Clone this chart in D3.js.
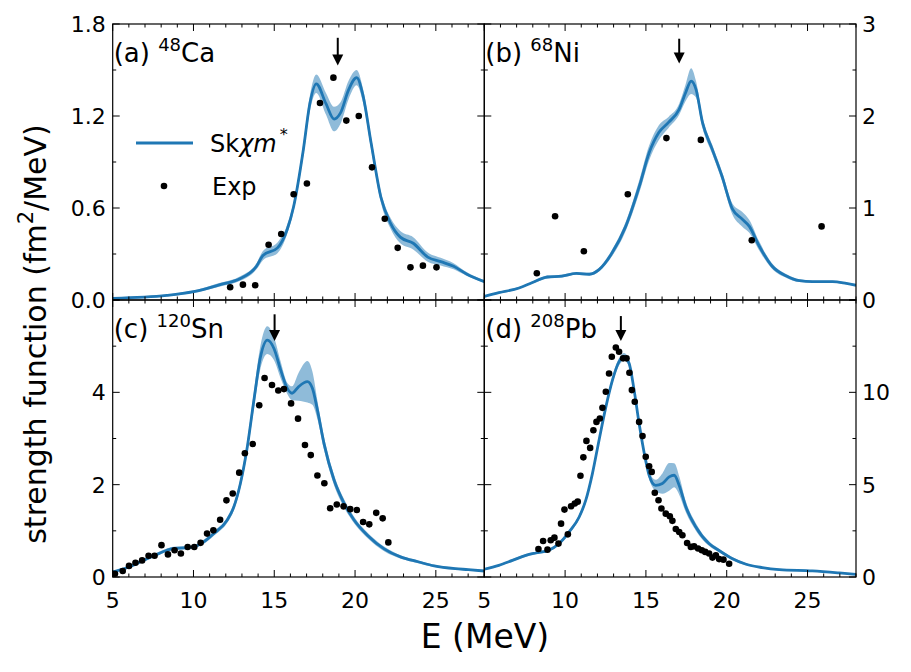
<!DOCTYPE html>
<html>
<head>
<meta charset="utf-8">
<script src="https://cdn.jsdelivr.net/npm/d3@7"></script>
<style>
  body { margin: 0; background: #fff; }
  text { font-family: "DejaVu Sans", sans-serif; fill: #000; }
</style>
</head>
<body>
<svg id="chart" width="911" height="672"></svg>
<script>
// (a) 48Ca
const caE  = [5, 8.35, 10, 11.65, 12.9, 13.9, 14.3, 15.2, 15.8, 16.2, 16.8, 17.2, 17.6, 18.2, 18.7, 19.1, 19.6, 20.1, 20.5, 21.0, 21.6, 22.2, 22.8, 23.6, 24.5, 25.3, 26.1, 26.9, 28];
const caS  = [0.011, 0.03, 0.054, 0.10, 0.14, 0.22, 0.29, 0.34, 0.46, 0.61, 0.98, 1.28, 1.41, 1.28, 1.18, 1.22, 1.37, 1.45, 1.33, 1.02, 0.67, 0.50, 0.41, 0.37, 0.28, 0.25, 0.22, 0.17, 0.12];
const caW  = [0.005, 0.006, 0.008, 0.012, 0.015, 0.02, 0.03, 0.035, 0.03, 0.03, 0.04, 0.05, 0.06, 0.07, 0.08, 0.07, 0.06, 0.05, 0.045, 0.04, 0.035, 0.035, 0.04, 0.04, 0.03, 0.025, 0.02, 0.012, 0.008];
const caExpE = [12.27, 13.06, 13.82, 14.65, 15.43, 16.2, 17.02, 17.83, 18.66, 19.46, 20.23, 21.05, 21.84, 22.64, 23.43, 24.2, 25.04];
const caExpS = [0.083, 0.10, 0.096, 0.36, 0.43, 0.69, 0.76, 1.285, 1.45, 1.17, 1.20, 0.865, 0.53, 0.34, 0.213, 0.224, 0.213];

// (b) 68Ni
const niE  = [5, 5.9, 7.15, 7.98, 8.9, 9.8, 10.7, 11.5, 12.1, 12.9, 13.75, 14.6, 15.2, 15.8, 16.4, 17.05, 17.45, 17.8, 18.1, 18.5, 19.1, 19.7, 20.35, 20.95, 21.4, 22.0, 22.8, 23.7, 24.5, 25.3, 26.55, 27.4, 28];
const niS  = [0.04, 0.08, 0.13, 0.19, 0.25, 0.26, 0.29, 0.28, 0.33, 0.51, 0.80, 1.24, 1.60, 1.82, 1.93, 2.07, 2.25, 2.38, 2.29, 1.93, 1.64, 1.35, 0.99, 0.88, 0.80, 0.59, 0.37, 0.26, 0.21, 0.20, 0.20, 0.18, 0.16];
const niW  = [0.01, 0.01, 0.01, 0.012, 0.015, 0.015, 0.015, 0.015, 0.02, 0.035, 0.05, 0.07, 0.08, 0.08, 0.06, 0.06, 0.09, 0.14, 0.09, 0.06, 0.05, 0.05, 0.06, 0.08, 0.07, 0.05, 0.03, 0.02, 0.015, 0.01, 0.01, 0.01, 0.01];
const niExpE = [8.25, 9.38, 11.16, 13.88, 16.27, 18.4, 21.55, 25.87];
const niExpS = [0.29, 0.91, 0.53, 1.15, 1.76, 1.74, 0.65, 0.80];

// (c) 120Sn
const snE  = [5, 5.87, 6.9, 7.73, 8.35, 8.77, 9.39, 10.0, 10.63, 11.25, 12.08, 12.5, 12.9, 13.3, 13.74, 14.15, 14.57, 14.98, 15.4, 15.8, 16.1, 16.5, 17.05, 17.36, 17.67, 18.08, 18.7, 19.33, 19.95, 20.78, 21.8, 22.85, 23.9, 24.9, 26.2, 27.0, 28];
const snS  = [0.11, 0.20, 0.36, 0.49, 0.58, 0.62, 0.63, 0.65, 0.76, 0.94, 1.23, 1.52, 2.02, 2.75, 3.83, 4.77, 5.13, 4.95, 4.48, 4.09, 3.98, 4.12, 4.23, 4.09, 3.62, 2.89, 2.10, 1.59, 1.23, 0.90, 0.61, 0.43, 0.33, 0.24, 0.18, 0.16, 0.13];
const snW  = [0.02, 0.025, 0.03, 0.035, 0.035, 0.035, 0.035, 0.035, 0.045, 0.05, 0.06, 0.08, 0.1, 0.13, 0.18, 0.25, 0.3, 0.25, 0.18, 0.12, 0.15, 0.3, 0.45, 0.36, 0.2, 0.14, 0.11, 0.09, 0.07, 0.06, 0.05, 0.035, 0.03, 0.025, 0.02, 0.02, 0.02];
const snExpE = [5.14, 5.62, 6.01, 6.41, 6.82, 7.22, 7.59, 8.02, 8.42, 8.83, 9.22, 9.64, 10.05, 10.44, 10.84, 11.23, 11.65, 12.04, 12.43, 12.83, 13.18, 13.67, 14.07, 14.4, 14.86, 15.25, 15.6, 16.04, 16.47, 16.9, 17.26, 17.67, 18.1, 18.46, 18.87, 19.29, 19.7, 20.11, 20.5, 20.88, 21.31, 21.71, 22.06];
const snExpS = [0.072, 0.13, 0.24, 0.31, 0.36, 0.46, 0.46, 0.69, 0.49, 0.58, 0.51, 0.65, 0.65, 0.74, 0.94, 1.01, 1.24, 1.66, 1.81, 2.26, 2.68, 2.88, 3.72, 4.31, 4.16, 4.04, 4.07, 3.76, 3.43, 2.86, 2.64, 2.2, 2.03, 1.49, 1.57, 1.53, 1.47, 1.45, 1.19, 1.14, 1.39, 1.27, 0.75];

// (d) 208Pb
const pbE  = [5, 5.9, 6.74, 7.57, 8.18, 9.0, 9.63, 10.25, 10.87, 11.28, 11.69, 12.1, 12.52, 12.93, 13.34, 13.65, 13.96, 14.27, 14.58, 14.9, 15.2, 15.6, 16.02, 16.44, 16.75, 17.06, 17.47, 18.09, 18.9, 19.5, 20.36, 21.2, 22.2, 23.25, 25.3, 26.96, 28];
const pbS  = [0.42, 0.63, 0.9, 1.17, 1.30, 1.45, 1.81, 2.44, 3.25, 4.16, 5.6, 7.41, 9.2, 10.66, 11.66, 11.93, 11.57, 10.12, 8.31, 6.69, 5.51, 4.96, 5.06, 5.42, 5.51, 4.96, 3.80, 2.71, 1.81, 1.45, 0.99, 0.69, 0.51, 0.40, 0.33, 0.22, 0.14];
const pbW  = [0.05, 0.05, 0.06, 0.07, 0.07, 0.07, 0.08, 0.1, 0.12, 0.15, 0.18, 0.2, 0.2, 0.2, 0.2, 0.2, 0.2, 0.2, 0.2, 0.2, 0.2, 0.3, 0.55, 0.75, 0.65, 0.5, 0.3, 0.2, 0.12, 0.1, 0.08, 0.06, 0.05, 0.05, 0.04, 0.03, 0.03];
const pbExpE = [8.35, 8.64, 8.91, 9.11, 9.34, 9.59, 9.75, 9.96, 10.17, 10.37, 10.6, 10.78, 10.95, 11.13, 11.32, 11.55, 11.75, 11.94, 12.15, 12.31, 12.52, 12.72, 12.89, 13.14, 13.34, 13.59, 13.8, 13.98, 14.13, 14.31, 14.58, 14.79, 14.99, 15.2, 15.36, 15.55, 15.78, 15.96, 16.23, 16.48, 16.64, 16.85, 17.06, 17.26, 17.55, 17.78, 17.98, 18.23, 18.46, 18.67, 18.91, 19.12, 19.33, 19.53, 19.8, 20.15];
const pbExpS = [1.52, 1.95, 1.48, 1.99, 2.13, 1.81, 2.89, 3.65, 2.31, 3.83, 3.98, 4.08, 5.48, 6.48, 7.37, 6.99, 7.95, 8.4, 8.58, 9.16, 10.03, 11.02, 11.93, 12.43, 12.2, 11.84, 11.84, 11.06, 10.12, 9.49, 8.4, 7.63, 6.51, 6.0, 5.69, 4.56, 4.16, 3.71, 3.43, 3.29, 3.04, 2.6, 2.44, 2.26, 1.84, 1.63, 1.66, 1.54, 1.45, 1.36, 1.27, 1.05, 1.17, 0.97, 0.94, 0.72];

// peak arrows: energy, tail value, tip value
const arrowE = [18.93, 17.06, 15.02, 13.45];
const arrowTop = [1.71, 2.84, 5.69, 14.13];
const arrowTip = [1.53, 2.57, 5.11, 12.78];

const panelTags = ["(a)", "(b)", "(c)", "(d)"];
const panelMass = ["48", "68", "120", "208"];
const panelElem = ["Ca", "Ni", "Sn", "Pb"];
const yMax = [1.8, 3, 6, 15];
const yMajor = [[0, 0.6, 1.2, 1.8], [0, 1, 2, 3], [0, 2, 4, 6], [0, 5, 10, 15]];
const yLabels = [["0.0", "0.6", "1.2", "1.8"], ["0", "1", "2", "3"], ["0", "2", "4", ""], ["0", "5", "10", ""]];
const xMajor = [5, 10, 15, 20, 25];

const series = [
  {E: caE, S: caS, W: caW, xe: caExpE, xs: caExpS},
  {E: niE, S: niS, W: niW, xe: niExpE, xs: niExpS},
  {E: snE, S: snS, W: snW, xe: snExpE, xs: snExpS},
  {E: pbE, S: pbS, W: pbW, xe: pbExpE, xs: pbExpS}
];

const blue = "#1f77b4";
const svg = d3.select("#chart");

const colX = [[112.7, 484.3], [484.3, 856]];
const rowY = [[24, 300], [300, 577]];

series.forEach((d, i) => {
  const col = i % 2, row = Math.floor(i / 2);
  const x = d3.scaleLinear().domain([5, 28]).range(colX[col]);
  const y = d3.scaleLinear().domain([0, yMax[i]]).range([rowY[row][1], rowY[row][0]]);
  const g = svg.append("g");

  const clipId = "clip" + i;
  svg.append("clipPath").attr("id", clipId).append("rect")
      .attr("x", colX[col][0]).attr("y", rowY[row][0])
      .attr("width", colX[col][1] - colX[col][0]).attr("height", rowY[row][1] - rowY[row][0]);

  const pts = d.E.map((e, k) => ({e, s: d.S[k], w: d.W[k]}));
  const plot = g.append("g").attr("clip-path", `url(#${clipId})`);

  // uncertainty band
  plot.append("path")
      .datum(pts)
      .attr("fill", blue)
      .attr("fill-opacity", 0.5)
      .attr("d", d3.area().curve(d3.curveMonotoneX)
        .x(p => x(p.e)).y0(p => y(p.s - p.w)).y1(p => y(p.s + p.w)));

  plot.append("path")
      .datum(pts)
      .attr("fill", "none")
      .attr("stroke", blue)
      .attr("stroke-width", 2.8)
      .attr("d", d3.line().curve(d3.curveMonotoneX).x(p => x(p.e)).y(p => y(p.s)));

  plot.append("g").selectAll("circle")
      .data(d.xe.map((e, k) => [e, d.xs[k]]))
      .join("circle")
      .attr("cx", p => x(p[0]))
      .attr("cy", p => y(p[1]))
      .attr("r", 3.3)
      .attr("fill", "#000");

  // arrow
  const ax = x(arrowE[i]), ay0 = y(arrowTop[i]), ay1 = y(arrowTip[i]);
  g.append("line").attr("x1", ax).attr("x2", ax).attr("y1", ay0).attr("y2", ay1 - 8)
      .attr("stroke", "#000").attr("stroke-width", 2);
  g.append("path")
      .attr("d", `M${ax - 5.5},${ay1 - 11} L${ax + 5.5},${ay1 - 11} L${ax},${ay1} Z`)
      .attr("fill", "#000");

  // ticks on all four sides, pointing inward
  const [xa, xb] = colX[col], [ya, yb] = rowY[row];
  const ticks = g.append("g").attr("stroke", "#000").attr("stroke-width", 1);
  d3.range(5, 29).forEach(t => {
    const len = xMajor.includes(t) ? 7 : 3.5;
    ticks.append("line").attr("x1", x(t)).attr("x2", x(t)).attr("y1", yb).attr("y2", yb - len);
    ticks.append("line").attr("x1", x(t)).attr("x2", x(t)).attr("y1", ya).attr("y2", ya + len);
  });
  const step = yMajor[i][1];
  d3.range(0, yMax[i] + 1e-9, step / 2).forEach((t, k) => {
    const len = k % 2 === 0 ? 7 : 3.5;
    ticks.append("line").attr("x1", xa).attr("x2", xa + len).attr("y1", y(t)).attr("y2", y(t));
    ticks.append("line").attr("x1", xb).attr("x2", xb - len).attr("y1", y(t)).attr("y2", y(t));
  });

  g.append("rect").attr("x", xa).attr("y", ya).attr("width", xb - xa).attr("height", yb - ya)
      .attr("fill", "none").attr("stroke", "#000").attr("stroke-width", 1.2);

  // y tick labels
  yMajor[i].forEach((t, k) => {
    if (!yLabels[i][k]) return;
    g.append("text")
        .attr("x", col === 0 ? xa - 7 : xb + 6)
        .attr("y", y(t))
        .attr("dy", "0.36em")
        .attr("text-anchor", col === 0 ? "end" : "start")
        .attr("font-size", 22)
        .text(yLabels[i][k]);
  });

  // x tick labels on bottom row
  if (row === 1) {
    xMajor.forEach(t => {
      g.append("text")
          .attr("x", x(t)).attr("y", yb + 31)
          .attr("text-anchor", "middle")
          .attr("font-size", 22)
          .text(t);
    });
  }

  // panel label
  const lbl = g.append("text").attr("x", xa + 1).attr("y", ya + 38).attr("font-size", 26);
  lbl.append("tspan").text(panelTags[i] + " ");
  lbl.append("tspan").attr("font-size", 18).attr("dy", -11).text(panelMass[i]);
  lbl.append("tspan").attr("dy", 11).text(panelElem[i]);
});

// legend in panel (a)
const leg = svg.append("g");
leg.append("line").attr("x1", 136).attr("x2", 193).attr("y1", 143).attr("y2", 143)
    .attr("stroke", blue).attr("stroke-width", 2.8);
const lt = leg.append("text").attr("x", 210).attr("y", 152).attr("font-size", 24);
lt.append("tspan").text("Sk");
lt.append("tspan").attr("font-style", "italic").text("χm");
lt.append("tspan").attr("font-size", 16).attr("dy", -12).attr("dx", 3).text("*");
leg.append("circle").attr("cx", 164).attr("cy", 186).attr("r", 3.3).attr("fill", "#000");
leg.append("text").attr("x", 212).attr("y", 195).attr("font-size", 24).text("Exp");

// axis titles
svg.append("text")
    .attr("x", 485).attr("y", 648)
    .attr("text-anchor", "middle")
    .attr("font-size", 33)
    .text("E (MeV)");

const yt = svg.append("text")
    .attr("transform", "translate(46,334) rotate(-90)")
    .attr("text-anchor", "middle")
    .attr("font-size", 30);
yt.append("tspan").text("strength function (fm");
yt.append("tspan").attr("font-size", 21).attr("dy", -13).text("2");
yt.append("tspan").attr("dy", 13).text("/MeV)");
</script>
</body>
</html>
